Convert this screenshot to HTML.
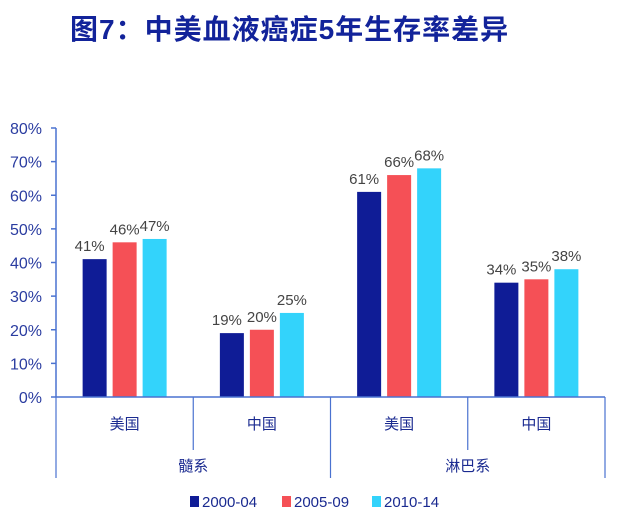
<!DOCTYPE html>
<html><head><meta charset="utf-8"><style>
body{margin:0;background:#fff;width:637px;height:523px;overflow:hidden;font-family:"Liberation Sans","Noto Sans CJK SC",sans-serif}
#title{position:absolute;left:70px;top:8px;font-size:28px;font-weight:bold;color:#12239a;letter-spacing:1px;white-space:nowrap;font-family:"Liberation Sans","Noto Sans CJK SC",sans-serif}
</style></head><body>
<div id="title">图7：中美血液癌症5年生存率差异</div>
<svg id="chart" width="637" height="523" style="position:absolute;left:0;top:0"></svg>
<script>
const categories=["美国","中国","美国","中国"];
const groups=["髓系","淋巴系"];
const seriesNames=["2000-04","2005-09","2010-14"];
const s2000=[41,19,61,34];
const s2005=[46,20,66,35];
const s2010=[47,25,68,38];
const yTicks=[0,10,20,30,40,50,60,70,80];
const colors=["#0f1c96","#f55056","#33d3fb"];
const series=[s2000,s2005,s2010];
const svg=document.getElementById('chart');
const NS="http://www.w3.org/2000/svg";
const x0=56,x1=605,y0=397,y1=128,yMax=80;
const yS=v=>y0-(v/yMax)*(y0-y1);
const cw=(x1-x0)/categories.length;
function mk(t,a,txt){const e=document.createElementNS(NS,t);for(const k in a)e.setAttribute(k,a[k]);if(txt!==undefined)e.textContent=txt;svg.appendChild(e);return e;}
const axisC="#4a72d0";
yTicks.forEach(v=>{
 const t=mk('text',{x:42,y:yS(v)+6,'text-anchor':'end','font-size':16,fill:'#2a3ca0'},v+'%');
 
 
 const l=mk('line',{x1:x0-5,x2:x0,y1:yS(v),y2:yS(v),stroke:axisC,'stroke-width':1.5});
 
 
});
const ya=mk('line',{x1:x0,x2:x0,y1:y1,y2:y0,stroke:axisC,'stroke-width':1.5});


categories.forEach((c,i)=>{
 const cx=x0+cw*(i+0.5);
 series.forEach((s,j)=>{
  const bx=cx+(j-1)*30-12;
  const r=mk('rect',{x:bx,y:yS(s[i]),width:24,height:y0-yS(s[i]),fill:colors[j]});
  
  
  const t=mk('text',{x:bx+12+(j==0?-5:0),y:yS(s[i])-8,'text-anchor':'middle','font-size':15,fill:'#444'},s[i]+'%');
  
  
 });
 const ct=mk('text',{x:cx,y:429,'text-anchor':'middle','font-size':15,fill:'#1a2a90'},c);
 
 
});
const xa=mk('line',{x1:x0,x2:x1,y1:y0,y2:y0,stroke:axisC,'stroke-width':1.5});


for(let i=0;i<=categories.length;i++){
 const x=x0+cw*i;
 const l=mk('line',{x1:x,x2:x,y1:y0,y2:(i%2==0)?478:450,stroke:axisC,'stroke-width':1.2});
 
 
}
groups.forEach((g,i)=>{
 const t=mk('text',{x:x0+cw*(2*i+1),y:471,'text-anchor':'middle','font-size':15,fill:'#1a2a90'},g);
 
 
});
const lx=[190,282,372];
seriesNames.forEach((n,j)=>{
 const r=mk('rect',{x:lx[j],y:496,width:9,height:11,fill:colors[j]});
 
 
 const t=mk('text',{x:lx[j]+12,y:507,'font-size':15,fill:'#1a2a90'},n);
 
 
});
</script>
</body></html>
